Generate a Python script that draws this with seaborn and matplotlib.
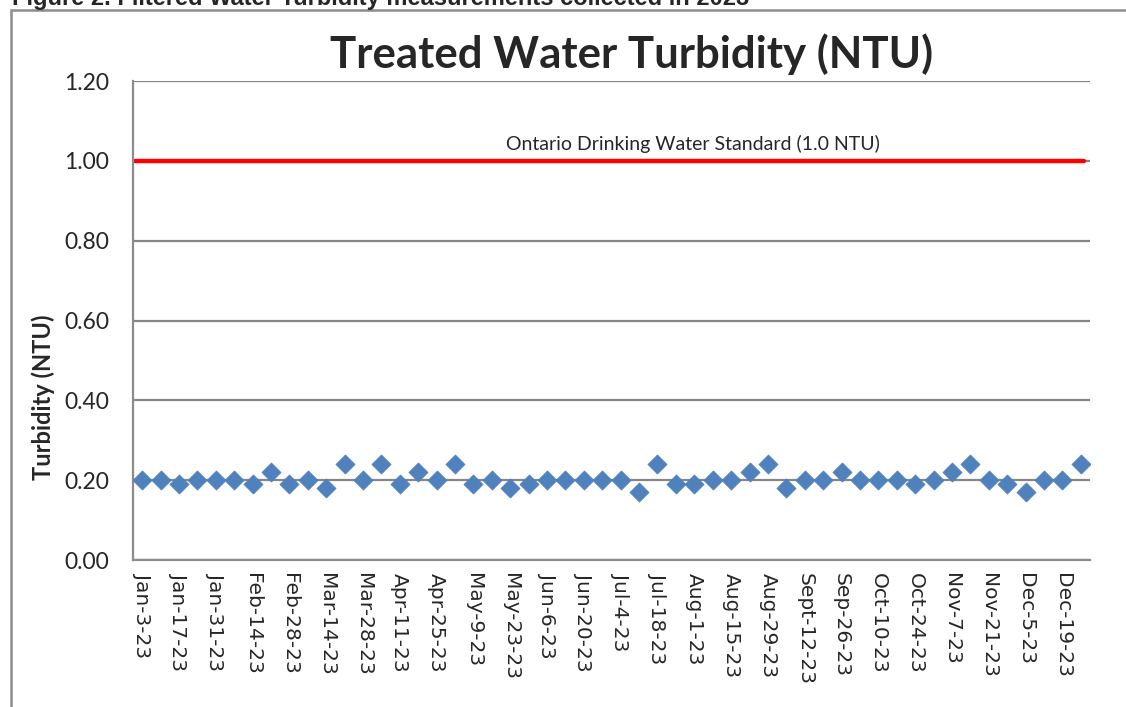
import pandas as pd
import matplotlib.pyplot as plt
import seaborn as sns
from matplotlib.patches import Rectangle

# weekly sample dates (2023) and treated water turbidity readings
dates = ['Jan-3-23', 'Jan-10-23', 'Jan-17-23', 'Jan-24-23', 'Jan-31-23', 'Feb-7-23',
         'Feb-14-23', 'Feb-21-23', 'Feb-28-23', 'Mar-7-23', 'Mar-14-23', 'Mar-21-23',
         'Mar-28-23', 'Apr-4-23', 'Apr-11-23', 'Apr-18-23', 'Apr-25-23', 'May-2-23',
         'May-9-23', 'May-16-23', 'May-23-23', 'May-30-23', 'Jun-6-23', 'Jun-13-23',
         'Jun-20-23', 'Jun-27-23', 'Jul-4-23', 'Jul-11-23', 'Jul-18-23', 'Jul-25-23',
         'Aug-1-23', 'Aug-8-23', 'Aug-15-23', 'Aug-22-23', 'Aug-29-23', 'Sept-5-23',
         'Sept-12-23', 'Sep-19-23', 'Sep-26-23', 'Oct-3-23', 'Oct-10-23', 'Oct-17-23',
         'Oct-24-23', 'Oct-31-23', 'Nov-7-23', 'Nov-14-23', 'Nov-21-23', 'Nov-28-23',
         'Dec-5-23', 'Dec-12-23', 'Dec-19-23', 'Dec-26-23']
turbidity = [0.20, 0.20, 0.19, 0.20, 0.20, 0.20, 0.19, 0.22, 0.19, 0.20, 0.18, 0.24,
             0.20, 0.24, 0.19, 0.22, 0.20, 0.24, 0.19, 0.20, 0.18, 0.19, 0.20, 0.20,
             0.20, 0.20, 0.20, 0.17, 0.24, 0.19, 0.19, 0.20, 0.20, 0.22, 0.24, 0.18,
             0.20, 0.20, 0.22, 0.20, 0.20, 0.20, 0.19, 0.20, 0.22, 0.24, 0.20, 0.19,
             0.17, 0.20, 0.20, 0.24]
standard = [1.0] * len(dates)
y_ticks = [0.0, 0.2, 0.4, 0.6, 0.8, 1.0, 1.2]

df = pd.DataFrame({'date': dates, 'turbidity': turbidity, 'standard': standard})
df['pos'] = range(len(df))

sns.set_style('white')
plt.rcParams['font.family'] = ['Lato', 'DejaVu Sans']

fig = plt.figure(figsize=(11.26, 7.07), dpi=100)
ax = fig.add_axes([0.1181, 0.2079, 0.8499, 0.6775])

# outer chart border
fig.patches.append(Rectangle((11 / 1126, -0.05), 1.2, 1 - 10 / 707 + 0.05,
                             transform=fig.transFigure, fill=False,
                             edgecolor='#8c8c8c', linewidth=1.8))

# standard line, drawn a touch past the first and last sample
line_df = pd.DataFrame({'pos': [-0.4, len(dates) - 0.85], 'standard': [1.0, 1.0]})
sns.lineplot(data=line_df, x='pos', y='standard', color='#ff0000', linewidth=3.2, ax=ax)
sns.scatterplot(data=df, x='pos', y='turbidity', marker='D', s=95, color='#4f81bd',
                edgecolor='#4f81bd', linewidth=0.5, ax=ax, zorder=3)

ax.set_xlim(-0.5, len(dates) - 0.5)
ax.set_ylim(0, 1.2)
ax.set_yticks(y_ticks)
ax.set_yticklabels([f'{v:.2f}' for v in y_ticks], fontsize=16.5)
ax.set_xticks(df['pos'][::2])
ax.set_xticklabels(df['date'][::2], rotation=270, fontsize=14.5,
                   family=['DejaVu Sans'])
ax.tick_params(axis='x', length=0, pad=9)
ax.tick_params(axis='y', length=0, pad=17)

ax.grid(axis='y', color='#868686', linewidth=1.6)
ax.set_axisbelow(True)
for side in ['top', 'right']:
    ax.spines[side].set_visible(False)
for side in ['left', 'bottom']:
    ax.spines[side].set_color('#8c8c8c')
    ax.spines[side].set_linewidth(1.6)

ax.set_xlabel('')
ax.set_ylabel('Turbidity (NTU)', fontsize=17, fontweight='bold')
ax.yaxis.set_label_coords(-0.081, 0.34)

ax.text(0.521, 1.057, 'Treated Water Turbidity (NTU)', transform=ax.transAxes,
        ha='center', va='center', fontsize=31.5, fontweight='bold')
ax.text(0.585, 0.85, 'Ontario Drinking Water Standard (1.0 NTU)', transform=ax.transAxes,
        ha='center', va='bottom', fontsize=14)

fig.text(12 / 1126, 1 - 5 / 707, 'Figure 2. Filtered Water Turbidity measurements collected in 2023',
         ha='left', va='baseline', fontsize=17, fontweight='bold', family=['Liberation Sans'])

fig.savefig('out.png', dpi=100)
